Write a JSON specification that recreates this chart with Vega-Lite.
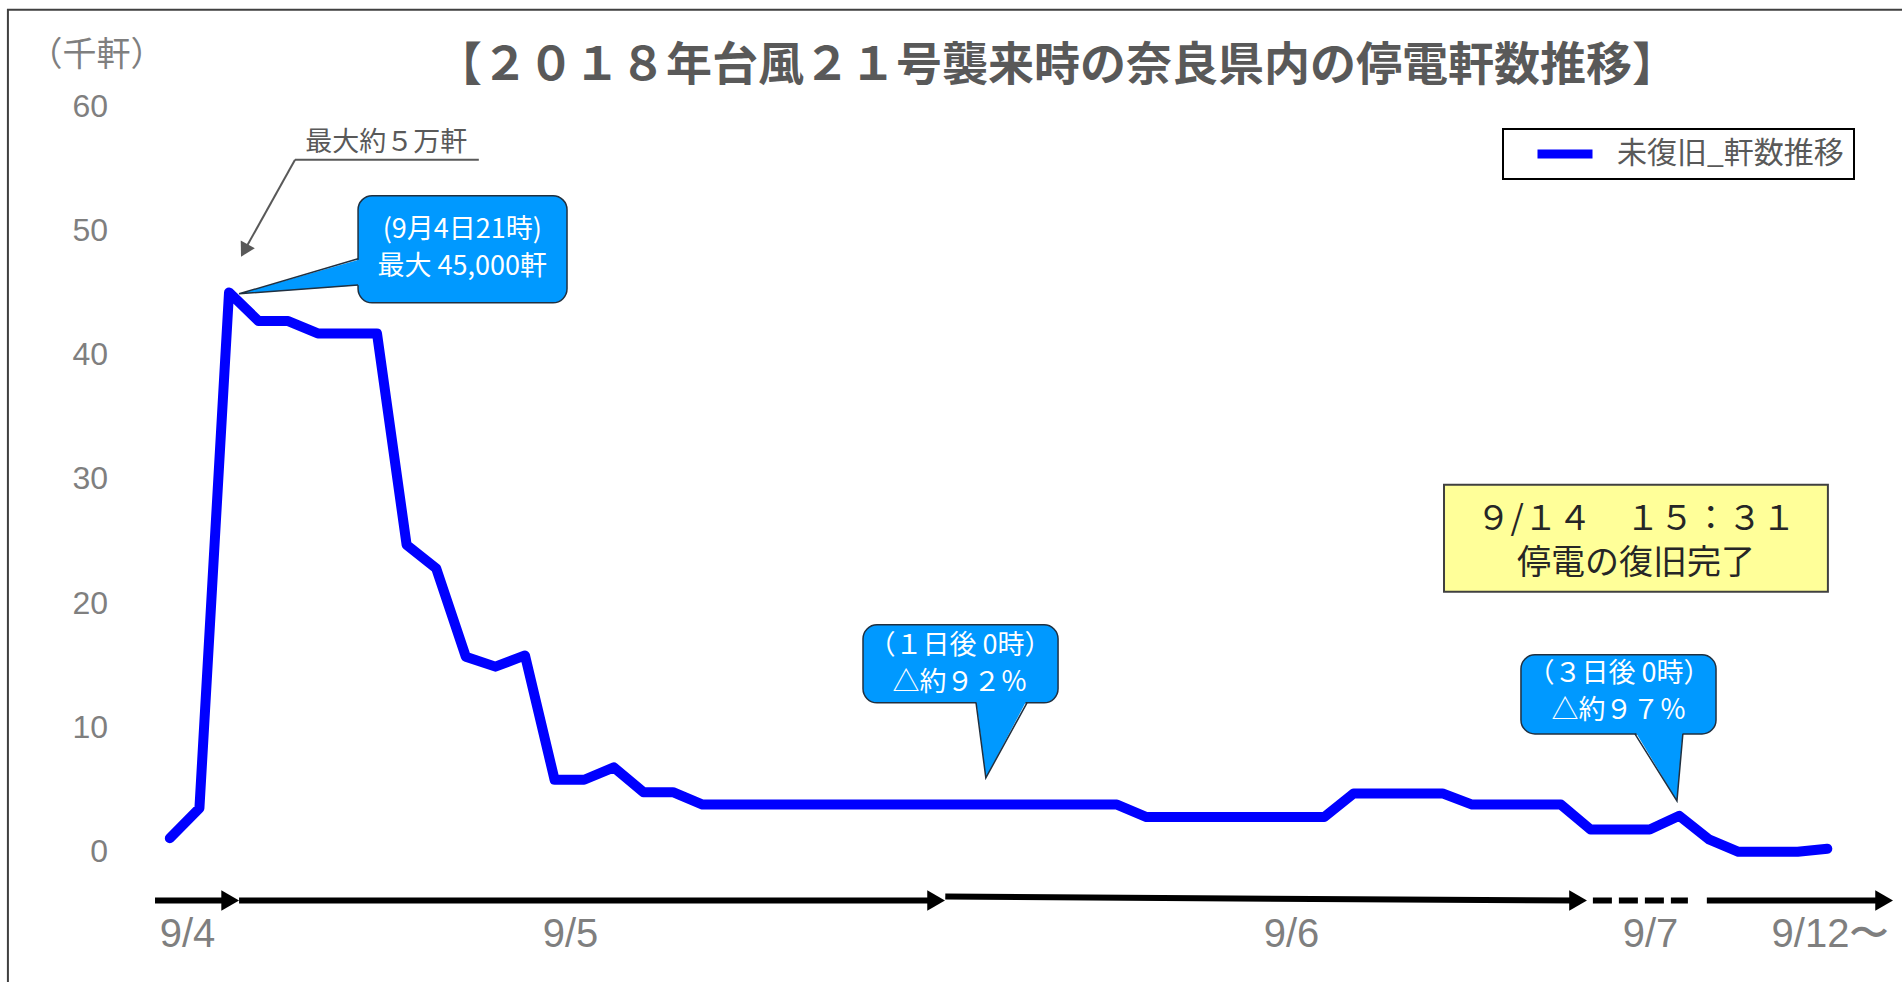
{
  "$schema": "https://vega.github.io/schema/vega-lite/v6.json",
  "width": 1767,
  "height": 808,
  "autosize": {"type": "none"},
  "padding": {"left": 119.5, "top": 106, "right": 15.5, "bottom": 68},
  "background": "white",
  "config": {"view": {"stroke": null}, "legend": {"strokeWidth": 2}},
  "title": {
    "text": "【２０１８年台風２１号襲来時の奈良県内の停電軒数推移】",
    "font": "Noto Sans CJK JP",
    "fontSize": 46,
    "fontWeight": "bold",
    "color": "#595959",
    "anchor": "middle",
    "frame": "group",
    "baseline": "middle",
    "offset": -103,
    "dx": 54
  },
  "datasets": {
    "series": [
      {"x": 0, "y": 1.1}, {"x": 1, "y": 3.5}, {"x": 2, "y": 45}, {"x": 3, "y": 42.7},
      {"x": 4, "y": 42.7}, {"x": 5, "y": 41.7}, {"x": 6, "y": 41.7}, {"x": 7, "y": 41.7},
      {"x": 8, "y": 24.7}, {"x": 9, "y": 22.8}, {"x": 10, "y": 15.7}, {"x": 11, "y": 14.9},
      {"x": 12, "y": 15.8}, {"x": 13, "y": 5.8}, {"x": 14, "y": 5.8}, {"x": 15, "y": 6.8},
      {"x": 16, "y": 4.8}, {"x": 17, "y": 4.8}, {"x": 18, "y": 3.8}, {"x": 19, "y": 3.8},
      {"x": 20, "y": 3.8}, {"x": 21, "y": 3.8}, {"x": 22, "y": 3.8}, {"x": 23, "y": 3.8},
      {"x": 24, "y": 3.8}, {"x": 25, "y": 3.8}, {"x": 26, "y": 3.8}, {"x": 27, "y": 3.8},
      {"x": 28, "y": 3.8}, {"x": 29, "y": 3.8}, {"x": 30, "y": 3.8}, {"x": 31, "y": 3.8},
      {"x": 32, "y": 3.8}, {"x": 33, "y": 2.8}, {"x": 34, "y": 2.8}, {"x": 35, "y": 2.8},
      {"x": 36, "y": 2.8}, {"x": 37, "y": 2.8}, {"x": 38, "y": 2.8}, {"x": 39, "y": 2.8},
      {"x": 40, "y": 4.7}, {"x": 41, "y": 4.7}, {"x": 42, "y": 4.7}, {"x": 43, "y": 4.7},
      {"x": 44, "y": 3.8}, {"x": 45, "y": 3.8}, {"x": 46, "y": 3.8}, {"x": 47, "y": 3.8},
      {"x": 48, "y": 1.8}, {"x": 49, "y": 1.8}, {"x": 50, "y": 1.8}, {"x": 51, "y": 2.9},
      {"x": 52, "y": 1.0}, {"x": 53, "y": 0}, {"x": 54, "y": 0}, {"x": 55, "y": 0},
      {"x": 56, "y": 0.25}
    ],
    "frame": [{"x": -5.47, "x2": 58.86, "y": 67.74, "y2": -11.26}],
    "boxes": [
      {"x": 6.36, "x2": 13.42, "y": 52.78, "y2": 44.17},
      {"x": 23.42, "x2": 30.01, "y": 18.26, "y2": 11.99},
      {"x": 45.65, "x2": 52.24, "y": 15.85, "y2": 9.49}
    ],
    "pointerV": [
      {"x": 2.34, "y": 44.89, "y2": 44.89},
      {"x": 6.5, "y": 47.71, "y2": 45.61}
    ],
    "pointerH": [
      {"id": "p2", "y": 12.23, "x": 27.24, "x2": 28.96},
      {"id": "p2", "y": 5.95, "x": 27.57, "x2": 27.57},
      {"id": "p3", "y": 9.73, "x": 49.5, "x2": 51.12},
      {"id": "p3", "y": 4.1, "x": 50.92, "x2": 50.92}
    ],
    "pointerEdges": [
      {"id": "p1", "k": 0, "x": 6.36, "y": 47.71},
      {"id": "p1", "k": 1, "x": 2.34, "y": 44.89},
      {"id": "p1", "k": 2, "x": 6.36, "y": 45.61},
      {"id": "p2", "k": 0, "x": 27.24, "y": 11.99},
      {"id": "p2", "k": 1, "x": 27.57, "y": 5.95},
      {"id": "p2", "k": 2, "x": 28.96, "y": 11.99},
      {"id": "p3", "k": 0, "x": 49.5, "y": 9.49},
      {"id": "p3", "k": 1, "x": 50.92, "y": 4.1},
      {"id": "p3", "k": 2, "x": 51.12, "y": 9.49}
    ],
    "calloutText": [
      {"x": 9.88, "y": 50.0, "label": "(9月4日21時)\n最大 45,000軒"},
      {"x": 26.7, "y": 16.57, "label": "（１日後 0時）\n△約９２％"},
      {"x": 48.96, "y": 14.28, "label": "（３日後 0時）\n△約９７％"}
    ],
    "noteBox": [{"x": 43.05, "x2": 56.02, "y": 29.53, "y2": 20.92}],
    "noteText": [{"x": 49.54, "y": 26.71, "label": "９/１４　１５：３１\n停電の復旧完了"}],
    "peakLines": [
      {"x": 4.23, "y": 55.67, "x2": 10.44, "y2": 55.67},
      {"x": 4.23, "y": 55.67, "x2": 2.52, "y2": 48.37}
    ],
    "peakHead": [{"x": 2.52, "y": 48.37}],
    "peakText": [{"x": 7.31, "y": 56.99, "label": "最大約５万軒"}],
    "arrows": [
      {"x": -0.5, "x2": 2.0, "y": -3.92, "y2": -3.92},
      {"x": 2.34, "x2": 25.85, "y": -3.92, "y2": -3.92},
      {"x": 26.2, "x2": 47.5, "y": -3.6, "y2": -3.92},
      {"x": 51.93, "x2": 57.85, "y": -3.92, "y2": -3.92}
    ],
    "arrowHeads": [
      {"x": 2.04, "y": -3.92}, {"x": 25.89, "y": -3.92},
      {"x": 47.58, "y": -3.92}, {"x": 57.92, "y": -3.92}
    ],
    "dashed": [{"x": 48.08, "x2": 51.29, "y": -3.92, "y2": -3.92}]
  },
  "encoding": {
    "x": {
      "field": "x", "type": "quantitative",
      "scale": {"domain": [-1.7, 58], "nice": false, "zero": false},
      "axis": {
        "title": null, "domain": false, "ticks": false, "grid": false,
        "values": [0.58, 13.52, 37.88, 50.01, 56.09],
        "labelExpr": "datum.value < 1 ? '9/4' : datum.value < 20 ? '9/5' : datum.value < 40 ? '9/6' : datum.value < 53 ? '9/7' : '9/12〜'",
        "labelFont": "Liberation Sans", "labelFontSize": 40, "labelColor": "#7f7f7f",
        "labelBaseline": "middle", "labelPadding": 20, "labelFlush": false, "labelOverlap": false
      }
    },
    "y": {
      "field": "y", "type": "quantitative",
      "scale": {"domain": [-5, 60], "nice": false, "zero": false},
      "axis": {
        "title": "（千軒）", "titleAngle": 0, "titleX": -23.5, "titleY": -51,
        "titleAlign": "center", "titleBaseline": "middle",
        "titleFont": "Noto Sans CJK JP", "titleFontSize": 34, "titleFontWeight": "normal", "titleColor": "#7f7f7f",
        "domain": false, "ticks": false, "grid": false,
        "values": [0, 10, 20, 30, 40, 50, 60],
        "labelFont": "Liberation Sans", "labelFontSize": 32, "labelColor": "#7f7f7f",
        "labelPadding": 12, "labelFlush": false, "labelOverlap": false
      }
    }
  },
  "layer": [
    {
      "data": {"name": "frame"},
      "mark": {"type": "rect", "filled": false, "stroke": "#404040", "strokeWidth": 2},
      "encoding": {"x2": {"field": "x2"}, "y2": {"field": "y2"}}
    },
    {
      "data": {"name": "series"},
      "mark": {"type": "line", "strokeWidth": 10, "strokeJoin": "round", "strokeCap": "round"},
      "encoding": {
        "color": {
          "datum": "未復旧_軒数推移", "type": "nominal",
          "scale": {"range": ["#0000ff"]},
          "legend": {
            "title": null, "orient": "none", "legendX": 1383.5, "legendY": 23,
            "symbolType": "stroke", "symbolSize": 3025, "symbolStrokeWidth": 9,
            "clipHeight": 30, "symbolOffset": 20, "labelOffset": 20, "padding": 10,
            "strokeColor": "#000000",
            "labelFont": "Noto Sans CJK JP", "labelFontSize": 30, "labelColor": "#595959", "labelLimit": 400
          }
        }
      }
    },
    {
      "data": {"name": "boxes"},
      "mark": {"type": "rect", "fill": "#0099ff", "stroke": "#203040", "strokeWidth": 1.5, "cornerRadius": 14},
      "encoding": {"x2": {"field": "x2"}, "y2": {"field": "y2"}}
    },
    {
      "data": {"name": "pointerV"},
      "mark": {"type": "area", "orient": "vertical", "fill": "#0099ff", "opacity": 1},
      "encoding": {"y2": {"field": "y2"}}
    },
    {
      "data": {"name": "pointerH"},
      "mark": {"type": "area", "orient": "horizontal", "fill": "#0099ff", "opacity": 1},
      "encoding": {"x2": {"field": "x2"}, "detail": {"field": "id"}}
    },
    {
      "data": {"name": "pointerEdges"},
      "mark": {"type": "line", "stroke": "#203040", "strokeWidth": 1.5},
      "encoding": {"detail": {"field": "id"}, "order": {"field": "k"}}
    },
    {
      "data": {"name": "calloutText"},
      "mark": {"type": "text", "font": "Noto Sans CJK JP", "fontSize": 27, "color": "#ffffff", "align": "center", "baseline": "middle", "lineBreak": "\n", "lineHeight": 37},
      "encoding": {"text": {"field": "label"}}
    },
    {
      "data": {"name": "noteBox"},
      "mark": {"type": "rect", "fill": "#ffff99", "stroke": "#404040", "strokeWidth": 2},
      "encoding": {"x2": {"field": "x2"}, "y2": {"field": "y2"}}
    },
    {
      "data": {"name": "noteText"},
      "mark": {"type": "text", "font": "Noto Sans CJK JP", "fontSize": 34, "color": "#262626", "align": "center", "baseline": "middle", "lineBreak": "\n", "lineHeight": 44},
      "encoding": {"text": {"field": "label"}}
    },
    {
      "data": {"name": "peakLines"},
      "mark": {"type": "rule", "stroke": "#595959", "strokeWidth": 2},
      "encoding": {"x2": {"field": "x2"}, "y2": {"field": "y2"}}
    },
    {
      "data": {"name": "peakHead"},
      "mark": {"type": "point", "shape": "triangle-up", "filled": true, "size": 260, "angle": 209, "color": "#595959", "opacity": 1, "strokeWidth": 0},
      "encoding": {}
    },
    {
      "data": {"name": "peakText"},
      "mark": {"type": "text", "font": "Noto Sans CJK JP", "fontSize": 27, "color": "#595959", "align": "center", "baseline": "middle"},
      "encoding": {"text": {"field": "label"}}
    },
    {
      "data": {"name": "arrows"},
      "mark": {"type": "rule", "stroke": "#000000", "strokeWidth": 6},
      "encoding": {"x2": {"field": "x2"}, "y2": {"field": "y2"}}
    },
    {
      "data": {"name": "dashed"},
      "mark": {"type": "rule", "stroke": "#000000", "strokeWidth": 6, "strokeDash": [19, 7]},
      "encoding": {"x2": {"field": "x2"}, "y2": {"field": "y2"}}
    },
    {
      "data": {"name": "arrowHeads"},
      "mark": {"type": "point", "shape": "triangle-right", "filled": true, "size": 420, "color": "#000000", "opacity": 1, "strokeWidth": 0},
      "encoding": {}
    }
  ]
}
